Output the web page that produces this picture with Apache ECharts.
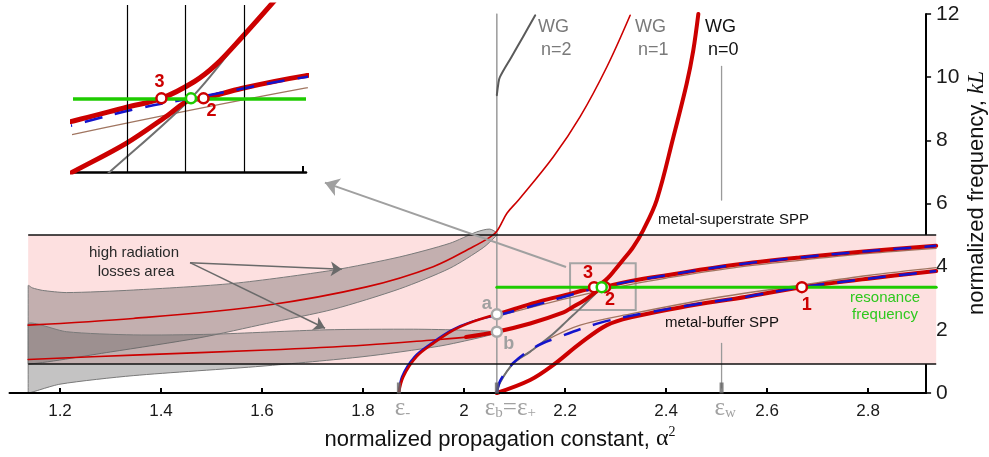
<!DOCTYPE html>
<html><head><meta charset="utf-8">
<script src="https://cdn.jsdelivr.net/npm/echarts@6/dist/echarts.min.js"></script>
<style>html,body{margin:0;padding:0;background:#fff}#c{width:989px;height:457px}</style>
</head><body><div id="c"></div>
<script>
// ---------- data ----------
const xTicks = [1.2, 1.4, 1.6, 1.8, 2.0, 2.2, 2.4, 2.6, 2.8];
const yTicks = [0, 2, 4, 6, 8, 10, 12];
const insetGridLines = [2.24, 2.27, 2.30];
const insetTicks = [2.33];
const X_MIN = 1.1, X_MAX = 2.935, X_AXIS_END = 2.915;
const Y_MIN = 0, Y_MAX = 12;
const INSET_X = [2.2124, 2.3315], INSET_Y = [2.692, 4.183];
const EPS_MINUS = 1.871, EPS_PLUS = 2.065, EPS_W = 2.51;
const F_RES = 3.35;
const BAND = { x0: 1.137, x1: 2.935, low: 0.92, high: 5.0 };
const ZOOM_BOX = { x0: 2.21, x1: 2.34, y0: 2.63, y1: 4.11 };

// leaky-mode lobes (top / bottom boundaries)
const upperLobeTop = [[1.137,3.4],[1.145,3.33],[1.165,3.25],[1.213,3.18],[1.345,3.26],[1.543,3.47],[1.741,3.89],[1.873,4.31],[1.972,4.74],[2.025,5.1],[2.051,5.19],[2.066,5.05]];
const upperLobeBottom = [[1.137,0.92],[1.3,1.3],[1.477,1.75],[1.609,2.2],[1.741,2.65],[1.873,3.3],[1.972,3.95],[2.038,4.6],[2.062,4.95]];
const lowerLobeTop = [[1.137,2.2],[1.213,1.94],[1.345,1.84],[1.5,1.86],[1.725,2.0],[1.9,2.02],[2.0,1.99],[2.065,1.94]];
const lowerLobeBottom = [[1.137,0],[1.2,0.28],[1.345,0.55],[1.6,0.85],[1.8,1.15],[1.95,1.48],[2.03,1.75],[2.065,1.9]];

// leaky modes (thin red) and WG modes
const leakyUpperWG1 = [[1.137,2.15],[1.345,2.36],[1.609,2.78],[1.807,3.36],[1.939,4.0],[2.018,4.63],[2.05,4.92],[2.065,5.12],[2.085,5.69],[2.108,6.11],[2.177,7.48],[2.23,8.75],[2.283,10.33],[2.329,11.96]];
const leakyLower = [[1.137,1.06],[1.345,1.2],[1.609,1.36],[1.807,1.52],[1.939,1.68],[2.004,1.77],[2.065,1.94]];
const wg2 = [[2.065,9.43],[2.068,9.8],[2.071,10.0],[2.094,10.64],[2.117,11.28],[2.141,11.96]];
const wg0Uncoupled = [[2.065,0],[2.072,0.35],[2.098,0.94],[2.131,1.31],[2.175,1.85],[2.205,2.3],[2.233,2.72],[2.2727,3.35],[2.2999,3.92],[2.3143,4.2]];

// coupled modes (thick red)
const sppSuperLeft = [[1.871,0],[1.88,0.52],[1.906,1.15],[1.939,1.57],[1.979,1.99],[2.018,2.26],[2.065,2.49]];
const modeUpper = [[2.065,2.49],[2.1,2.66],[2.15,2.9],[2.2131,3.15],[2.2398,3.27],[2.2576,3.35],[2.2745,3.5],[2.2855,3.65],[2.299,3.9],[2.3143,4.2],[2.335,4.62],[2.355,5.16],[2.3816,6.11],[2.4145,8.1],[2.441,9.8],[2.454,10.85],[2.464,12]];
const modeLower = [[2.004,1.77],[2.065,1.94],[2.131,2.2],[2.197,2.55],[2.2131,2.7],[2.2398,2.95],[2.2602,3.19],[2.272,3.335],[2.2791,3.35],[2.299,3.44],[2.3309,3.55],[2.401,3.73],[2.533,4.05],[2.665,4.29],[2.797,4.49],[2.935,4.66]];
const modeBuffer = [[2.065,0],[2.131,0.41],[2.177,0.89],[2.23,1.57],[2.283,2.15],[2.335,2.41],[2.428,2.71],[2.56,3.05],[2.669,3.35],[2.8,3.62],[2.935,3.86]];

// uncoupled SPPs (blue dashed) and approximations (thin brown)
const sppSuperBlueLeft = [[1.871,0],[1.877,0.52],[1.902,1.15],[1.935,1.57],[1.975,1.99],[2.015,2.26],[2.065,2.45]];
const sppSuperBlue = [[2.065,2.45],[2.13,2.73],[2.2187,3.14],[2.2432,3.25],[2.2694,3.34],[2.2855,3.39],[2.3211,3.51],[2.401,3.73],[2.533,4.05],[2.665,4.29],[2.797,4.49],[2.935,4.66]];
const sppBufferBlue = [[2.065,0],[2.072,0.4],[2.098,0.96],[2.14,1.45],[2.184,1.75],[2.269,2.22],[2.362,2.54],[2.46,2.81],[2.56,3.05],[2.669,3.35],[2.8,3.62],[2.935,3.86]];
const sppSuperBrown = [[2.065,2.42],[2.13,2.7],[2.2131,3.03],[2.3309,3.44],[2.401,3.64],[2.533,3.96],[2.665,4.2],[2.797,4.41],[2.935,4.58]];
const sppBufferBrown = [[2.065,0],[2.072,0.35],[2.098,0.94],[2.131,1.31],[2.164,1.68],[2.23,2.15],[2.335,2.52],[2.493,3.0],[2.669,3.42],[2.8,3.72],[2.935,3.97]];

// special points
const redPoints = [[2.2576,F_RES],[2.2791,F_RES],[2.669,F_RES]];
const redPointNames = ['3','2','1'];
const greenPoint = [[2.2727,F_RES]];
const grayPoints = [[EPS_PLUS,2.49],[EPS_PLUS,1.94]];
const grayPointNames = ['a','b'];
const epsMarks = [EPS_MINUS, EPS_PLUS, EPS_W];
const epsW_leaders = [[[EPS_W,6.11],[EPS_W,10.34]],[[EPS_W,0.16],[EPS_W,1.57]]];

// ---------- styles ----------
const FONT = '"Liberation Sans", Arial, sans-serif';
const SERIF = '"Liberation Serif", "DejaVu Serif", serif';
const RED = '#cc0000', BLUE = '#1414cc', GREEN = '#1ecb00', BROWN = '#a07560';
const DGRAY = '#666', LGRAY = '#9a9a9a';

function line(name, data, color, width, extra, inset) {
  return Object.assign({
    type: 'line', name, data, symbol: 'none', showSymbol: false, smooth: 0.35,
    lineStyle: { color, width, cap: 'round', join: 'round' }, silent: true,
    xAxisIndex: inset ? 1 : 0, yAxisIndex: inset ? 1 : 0
  }, extra || {});
}
function dashed(name, data, inset, w) {
  return line(name, data, BLUE, w || 2.5, { lineStyle: { color: BLUE, width: w || 2.5, type: [18, 13], cap: 'butt' } }, inset);
}
function circles(name, data, names, border, offsets, color, inset) {
  return {
    type: 'scatter', name, silent: true, clip: false, z: 10,
    xAxisIndex: inset ? 1 : 0, yAxisIndex: inset ? 1 : 0,
    symbol: 'circle', symbolSize: 10,
    itemStyle: { color: '#fff', borderColor: border, borderWidth: 2.5, opacity: 1 },
    data: data.map((p, i) => ({
      value: p,
      label: names ? { show: true, formatter: names[i], position: 'inside', offset: offsets[i],
        color, fontFamily: FONT, fontWeight: 'bold', fontSize: 18 } : { show: false }
    }))
  };
}
function arrows(name, pairs, color, width, size) {
  return {
    type: 'line', name, data: [], silent: true,
    markLine: {
      silent: true, symbol: ['none', 'arrow'], symbolSize: size, label: { show: false },
      lineStyle: { color, width, type: 'solid' },
      data: pairs.map(p => [{ coord: p[0] }, { coord: p[1] }])
    }
  };
}

const lobes = [
  { top: upperLobeTop, bottom: upperLobeBottom },
  { top: lowerLobeTop, bottom: lowerLobeBottom }
];

const chart = echarts.init(document.getElementById('c'));

const series = [
  // pink band + its black edges
  { type: 'line', name: 'band', data: [], silent: true, z: 1,
    markArea: { silent: true, itemStyle: { color: '#fde0e0' },
      data: [[{ coord: [BAND.x0, BAND.low] }, { coord: [BAND.x1, BAND.high] }]] },
    markLine: { silent: true, symbol: ['none', 'none'], label: { show: false },
      lineStyle: { color: '#111', width: 1.5, type: 'solid' },
      data: [[{ coord: [BAND.x0, BAND.low] }, { coord: [BAND.x1, BAND.low] }],
             [{ coord: [BAND.x0, BAND.high] }, { coord: [BAND.x1, BAND.high] }]] } },
  // leaky lobes
  { type: 'custom', name: 'lobes', silent: true, z: 2, clip: true,
    data: lobes.map(l => l.top[0]),
    renderItem: (params, api) => {
      const l = lobes[params.dataIndex];
      const pts = l.top.concat(l.bottom.slice().reverse()).map(p => api.coord(p));
      const xs = pts.map(p => p[0]), ys = pts.map(p => p[1]);
      const cons = [[Math.min(...xs), Math.min(...ys) - 3], [Math.max(...xs) + 2, Math.max(...ys)]];
      return { type: 'polygon', shape: { points: pts, smooth: 0.25, smoothConstraint: cons },
        style: { fill: 'rgba(92,88,88,0.36)', stroke: '#7a7a7a', lineWidth: 1 } };
    } },
  // x axis line
  line('xaxisline', [[X_MIN, 0], [X_AXIS_END, 0]], '#000', 2, { smooth: false, clip: false, z: 5 }),
  // eps+ vertical and eps_w leaders
  line('epsPlusLine', [[EPS_PLUS, Y_MIN], [EPS_PLUS, Y_MAX]], LGRAY, 1.5, { smooth: false }),
  line('lead1', epsW_leaders[0], LGRAY, 1.3, { smooth: false }),
  line('lead2', epsW_leaders[1], LGRAY, 1.3, { smooth: false }),
  // zoom box
  { type: 'line', name: 'box', data: [], silent: true,
    markArea: { silent: true, itemStyle: { color: 'rgba(0,0,0,0)', borderColor: '#a5a5a5', borderWidth: 2 },
      data: [[{ coord: [ZOOM_BOX.x0, ZOOM_BOX.y0] }, { coord: [ZOOM_BOX.x1, ZOOM_BOX.y1] }]] } },
  arrows('insetArrow', [[[2.202, 3.99], [1.7245, 6.66]]], '#a0a0a0', 2, 14),
  arrows('lossArrows', [[[1.4574, 4.126], [1.758, 3.917]], [[1.4574, 4.126], [1.7248, 2.049]]], '#6a6a6a', 1.5, 11),
  // thin curves
  line('brownSuper', sppSuperBrown, BROWN, 1.3),
  line('brownBuffer', sppBufferBrown, BROWN, 1.3),
  line('wg0', wg0Uncoupled, '#707070', 2),
  line('wg2', wg2, '#5a5a5a', 2),
  line('leakyUpper', leakyUpperWG1, RED, 1.6),
  line('leakyLower', leakyLower, RED, 1.6),
  // coupled (thick red)
  line('sppLeftBlue', sppSuperBlueLeft, BLUE, 2),
  line('sppLeft', sppSuperLeft, RED, 2.6),
  line('buffer', modeBuffer, RED, 4),
  line('upper', modeUpper, RED, 4),
  line('lower', modeLower, RED, 4),
  dashed('blueSuper', sppSuperBlue),
  dashed('blueBuffer', sppBufferBlue),
  // resonance
  line('res', [[EPS_PLUS, F_RES], [X_MAX, F_RES]], GREEN, 3, { smooth: false }),
  // eps markers on axis
  { type: 'scatter', name: 'epsMarks', silent: true, clip: false, z: 6,
    symbol: 'rect', symbolSize: [4, 11], symbolOffset: [0, -5],
    itemStyle: { color: DGRAY },
    data: epsMarks.map(e => [e, 0]) },
  { type: 'scatter', name: 'epsLabels', silent: true, clip: false, z: 6,
    symbolSize: 1, itemStyle: { color: 'rgba(0,0,0,0)' },
    label: { show: true, position: 'inside', align: 'left', verticalAlign: 'top',
      rich: {
        e: { fontFamily: SERIF, fontSize: 25, color: '#8a8a8a', lineHeight: 28, verticalAlign: 'bottom' },
        s: { fontFamily: SERIF, fontSize: 15, color: '#8a8a8a', lineHeight: 15, verticalAlign: 'bottom' }
      } },
    data: [
      { value: [EPS_MINUS, 0], label: { formatter: '{e|ε}{s|-}', offset: [-4, 0] } },
      { value: [EPS_PLUS, 0], label: { formatter: '{e|ε}{s|b}{e|=ε}{s|+}', offset: [-12, 0] } },
      { value: [EPS_W, 0], label: { formatter: '{e|ε}{s|w}', offset: [-7, 0] } }
    ] },
  circles('grayPts', grayPoints, grayPointNames, '#a8a8a8', [[-10, -10], [12, 12]], '#a0a0a0'),
  circles('redPts', redPoints, redPointNames, RED, [[-6, -14], [5, 13], [5, 18]], RED),
  circles('greenPt', greenPoint, null, GREEN, null, GREEN),

  // ---------- inset ----------
  { type: 'line', name: 'insetGrid', data: [], silent: true, xAxisIndex: 1, yAxisIndex: 1, z: 3,
    markLine: { silent: true, symbol: ['none', 'none'], label: { show: false },
      lineStyle: { color: '#000', width: 1.2, type: 'solid' },
      data: insetGridLines.map(v => ({ xAxis: v })) } },
  line('i_brown', sppSuperBrown, BROWN, 1.3, null, true),
  line('i_wg0', wg0Uncoupled, '#707070', 2, null, true),
  line('i_upper', modeUpper, RED, 5, null, true),
  line('i_lower', modeLower, RED, 5, null, true),
  dashed('i_blue', sppSuperBlue, true, 2.5),
  { type: 'line', name: 'i_res', data: [], silent: true, xAxisIndex: 1, yAxisIndex: 1, z: 4,
    markLine: { silent: true, symbol: ['none', 'none'], label: { show: false },
      lineStyle: { color: GREEN, width: 3.5, type: 'solid' },
      data: [{ yAxis: F_RES }] } },
  circles('i_red', redPoints.slice(0, 2), redPointNames.slice(0, 2), RED, [[-2, -16], [8, 13]], RED, true),
  circles('i_green', greenPoint, null, GREEN, null, GREEN, true)
];

const txt = (text, x, y, size, color, align, extra) => Object.assign({
  type: 'text', x, y, z: 20, silent: true,
  style: { text, fontFamily: FONT, fontSize: size, fill: color, align: align || 'left', verticalAlign: 'middle' }
}, extra || {});

const option = {
  animation: false,
  backgroundColor: '#fff',
  grid: [
    { left: 9.5, right: 52.8, top: 14, bottom: 64, containLabel: false },
    { left: 73, top: 5, width: 233, height: 167, show: true, backgroundColor: '#fff', borderWidth: 0, z: 0 }
  ],
  xAxis: [
    { type: 'value', gridIndex: 0, min: X_MIN, max: X_MAX,
      axisLine: { show: false },
      axisTick: { show: true, inside: true, length: 5, customValues: xTicks, lineStyle: { color: '#000', width: 2 } },
      axisLabel: { customValues: xTicks, fontFamily: FONT, fontSize: 17, color: '#1a1a1a', margin: 10,
        formatter: v => (Math.abs(v - 2) < 1e-9 ? '2' : v.toFixed(1)) },
      splitLine: { show: false } },
    { type: 'value', gridIndex: 1, min: INSET_X[0], max: INSET_X[1],
      axisLine: { show: true, onZero: false, lineStyle: { color: '#000', width: 2.5 } },
      axisTick: { show: true, inside: true, length: 6, customValues: insetTicks, lineStyle: { color: '#000', width: 2 } },
      axisLabel: { show: false }, splitLine: { show: false } }
  ],
  yAxis: [
    { type: 'value', gridIndex: 0, position: 'right', offset: -10.1, min: Y_MIN, max: Y_MAX, interval: 2,
      axisLine: { show: true, onZero: false, lineStyle: { color: '#000', width: 2 } },
      axisTick: { show: true, inside: false, length: 5, lineStyle: { color: '#000', width: 1.5 } },
      axisLabel: { fontFamily: FONT, fontSize: 21, color: '#1a1a1a', margin: 10 },
      splitLine: { show: false } },
    { type: 'value', gridIndex: 1, min: INSET_Y[0], max: INSET_Y[1], show: false }
  ],
  series,
  graphic: [
    txt('WG', 538, 27, 18, '#7a7a7a'), txt('n=2', 541, 50, 18, '#7a7a7a'),
    txt('WG', 635, 27, 18, '#7a7a7a'), txt('n=1', 638, 50, 18, '#7a7a7a'),
    txt('WG', 705, 27, 18, '#111'), txt('n=0', 708, 50, 18, '#111'),
    txt('metal-superstrate SPP', 658, 220, 15, '#111'),
    txt('metal-buffer SPP', 665, 323, 15, '#111'),
    txt('resonance', 885, 298, 15, '#2ec81e', 'center'),
    txt('frequency', 885, 315, 15, '#2ec81e', 'center'),
    txt('high radiation', 134, 253, 15, '#2a2a2a', 'center'),
    txt('losses area', 136, 272, 15, '#2a2a2a', 'center'),
    { type: 'text', x: 500, y: 438, z: 20, silent: true,
      style: { text: '{t|normalized propagation constant, }{a|α}{p|2}', align: 'center', verticalAlign: 'middle',
        rich: {
          t: { fontFamily: FONT, fontSize: 22, fill: '#111', lineHeight: 26, verticalAlign: 'bottom' },
          a: { fontFamily: SERIF, fontSize: 24, fill: '#111', lineHeight: 26, verticalAlign: 'bottom' },
          p: { fontFamily: SERIF, fontSize: 14, fill: '#111', lineHeight: 14, verticalAlign: 'top' }
        } } },
    { type: 'text', x: 977, y: 193, z: 20, silent: true, rotation: Math.PI / 2,
      style: { text: '{t|normalized frequency, }{k|kL}', align: 'center', verticalAlign: 'middle',
        rich: {
          t: { fontFamily: FONT, fontSize: 22, fill: '#111', lineHeight: 26 },
          k: { fontFamily: SERIF, fontStyle: 'italic', fontSize: 23, fill: '#111', lineHeight: 26 }
        } } }
  ]
};
chart.setOption(option);
</script>
</body></html>
